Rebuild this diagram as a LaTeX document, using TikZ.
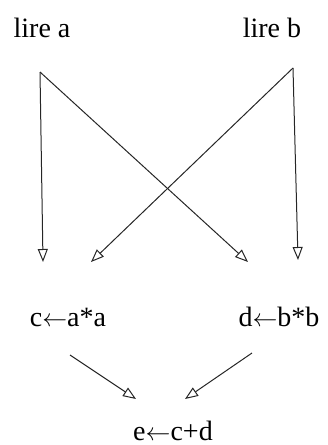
\documentclass[tikz,border=0pt]{standalone}
\usepackage{fontspec}
\setmainfont{Liberation Serif}
\usetikzlibrary{arrows.meta}
\begin{document}
\begin{tikzpicture}[x=1pt,y=-1pt,
  lbl/.style={inner sep=0pt,anchor=base,font=\fontsize{28}{33}\selectfont},
  conn/.style={line width=1pt,draw=black!85,-{Triangle[open,length=13pt,width=10pt,line width=1pt]}}]
\useasboundingbox (0,0) rectangle (328,445);
\node[lbl] (la) at (42,37) {lire a};
\node[lbl] (lb) at (272,37) {lire b};
\node[lbl] (c) at (68,326) {c$\leftarrow$a*a};
\node[lbl] (d) at (279,326) {d$\leftarrow$b*b};
\node[lbl] (e) at (173,440) {e$\leftarrow$c+d};
\coordinate (sa) at (40,72);
\coordinate (sb) at (293,68);
\coordinate (ta1) at (43,262);
\coordinate (ta2) at (248,262);
\coordinate (tb1) at (298,260);
\coordinate (tb2) at (91,262);
\coordinate (s1) at (70,355);
\coordinate (t1) at (136,399);
\coordinate (s2) at (252,353);
\coordinate (t2) at (185,399);
\draw[conn] (sa) -- (ta1);
\draw[conn] (sa) -- (ta2);
\draw[conn] (sb) -- (tb1);
\draw[conn] (sb) -- (tb2);
\draw[conn] (s1) -- (t1);
\draw[conn] (s2) -- (t2);
\end{tikzpicture}
\end{document}
